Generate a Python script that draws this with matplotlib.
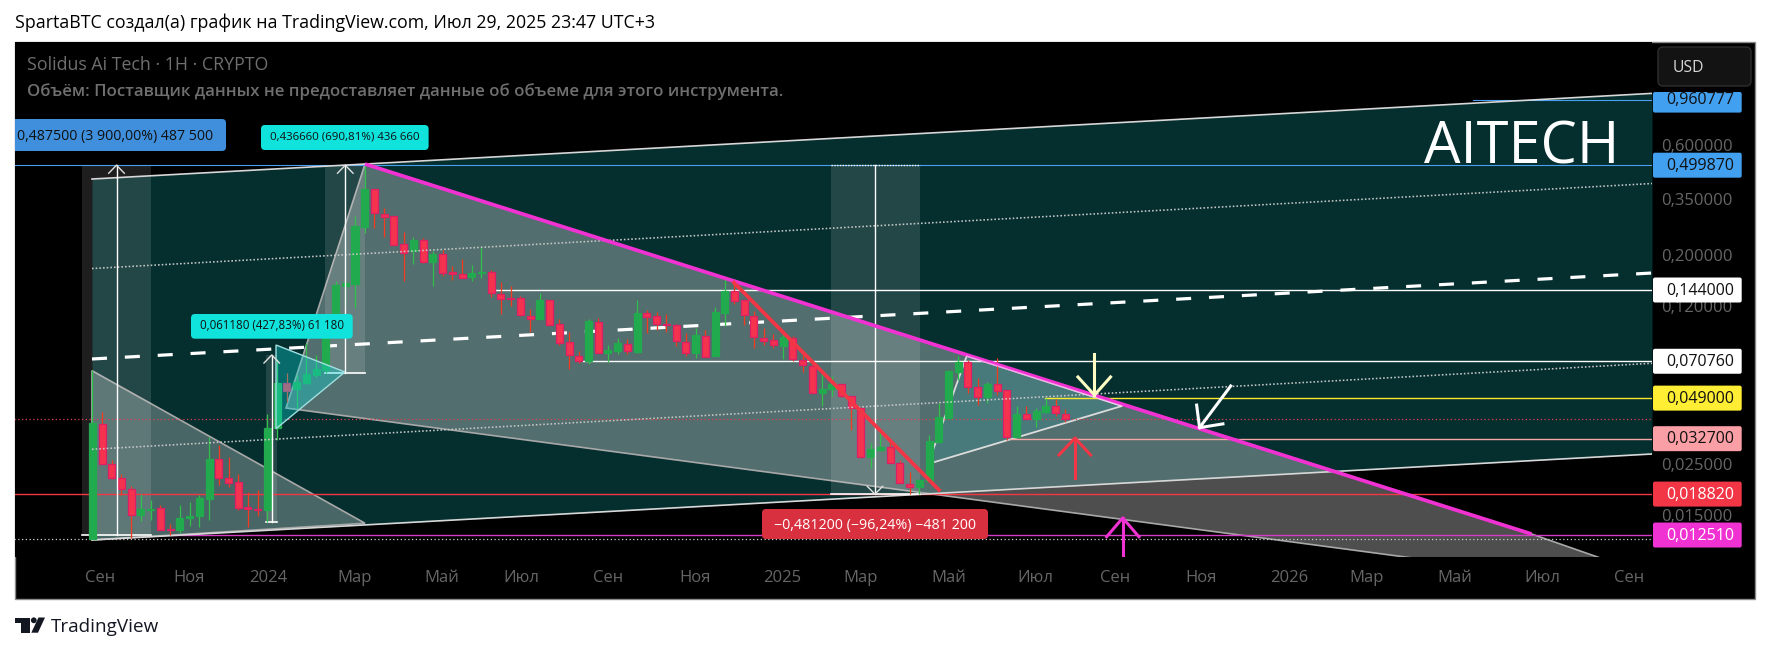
import matplotlib
matplotlib.use('Agg')
import matplotlib.pyplot as plt
from matplotlib.patches import Rectangle, FancyBboxPatch, Polygon, Circle
from matplotlib.ticker import NullLocator

plt.rcParams['font.family'] = ['Open Sans', 'DejaVu Sans']

# ---------- weekly candles (prices, USD) ----------
opens = [.0120,.0377,.0253,.0220,.0197,.0153,.0161,.0163,.0133,.0131,.0149,.0152,.0180,.0266,.0222,.0212,.0165,.0162,.0160,.0363,.0568,.0535,.0572,.0619,.0649,.0986,.1504,.1529,.2708,.3929,.3062,.3021,.2270,.2117,
 .2363,.1910,.2062,.1723,.1695,.1645,.1712,.1717,.1388,.1330,.1325,.1115,.1082,.1299,.1023,.0855,.0748,.0707,.1050,.0771,.0786,.0843,.0779,.1141,.1107,.1023,.1012,.0860,.0771,.0913,.0748,.1149,.1421,.1299,
 .1115,.0895,.0872,.0827,.0895,.0719,.0677,.0517,.0535,.0562,.0499,.0446,.0272,.0292,.0300,.0256,.0209,.0201,.0215,.0317,.0403,.0638,.0700,.0546,.0494,.0562,.0530,.0333,.0418,.0399,.0428,.0451,.0420]
highs = [.0649,.0425,.0264,.0231,.0204,.0188,.0177,.0168,.0140,.0168,.0174,.0186,.0331,.0307,.0272,.0230,.0193,.0196,.0417,.0721,.0627,.0617,.0852,.0753,.0999,.1575,.1591,.3011,.4958,.3929,.3262,.3021,.2559,.2435,
 .2426,.2131,.2146,.1829,.1955,.1841,.2203,.1752,.1554,.1499,.1356,.1188,.1393,.1299,.1075,.0950,.0781,.1078,.1086,.0829,.0892,.0881,.1303,.1180,.1156,.1134,.1026,.0935,.0989,.0966,.1220,.1602,.1602,.1303,
 .1168,.0983,.0929,.0929,.0910,.0753,.0682,.0642,.0611,.0562,.0499,.0446,.0314,.0361,.0329,.0264,.0235,.0217,.0339,.0465,.0649,.0746,.0717,.0601,.0574,.0729,.0530,.0453,.0453,.0443,.0489,.0484,.0438]
lows = [.0120,.0253,.0218,.0187,.0121,.0144,.0146,.0131,.0125,.0128,.0137,.0135,.0145,.0206,.0201,.0160,.0136,.0152,.0143,.0323,.0473,.0443,.0564,.0607,.0627,.0966,.1199,.1207,.2534,.2672,.2434,.2263,.1575,.1866,
 .1879,.1499,.1661,.1596,.1628,.1575,.1628,.1343,.1137,.1228,.1115,.0947,.1078,.1016,.0832,.0653,.0693,.0691,.0771,.0702,.0761,.0763,.0771,.0941,.0966,.0950,.0824,.0746,.0733,.0736,.0748,.1006,.1252,.1016,
 .0810,.0832,.0810,.0724,.0709,.0638,.0514,.0454,.0502,.0497,.0357,.0272,.0245,.0289,.0256,.0210,.0188,.0188,.0215,.0317,.0403,.0587,.0514,.0458,.0468,.0505,.0323,.0331,.0397,.0367,.0424,.0410,.0387]
closes = [.0381,.0253,.0220,.0197,.0153,.0162,.0162,.0132,.0132,.0149,.0152,.0181,.0266,.0222,.0211,.0163,.0162,.0160,.0363,.0568,.0528,.0575,.0621,.0653,.0983,.1514,.1539,.2717,.3929,.3093,.2992,.2263,.2089,.2371,
 .1910,.2062,.1712,.1695,.1628,.1700,.1723,.1393,.1321,.1316,.1119,.1078,.1303,.1019,.0852,.0751,.0707,.1054,.0771,.0789,.0846,.0781,.1141,.1104,.1023,.1012,.0863,.0771,.0916,.0741,.1153,.1421,.1295,.1119,
 .0898,.0869,.0829,.0898,.0721,.0679,.0517,.0535,.0562,.0499,.0446,.0272,.0294,.0300,.0256,.0210,.0201,.0217,.0318,.0405,.0640,.0700,.0546,.0494,.0562,.0528,.0334,.0418,.0399,.0430,.0453,.0421,.0397]

# ---------- axis labels ----------
month_weeks = [0.84,10.0,18.1,27.0,35.9,44.1,53.0,62.0,70.9,79.0,88.0,96.9,105.1,114.0,123.0,131.0,140.0,149.0,158.0]
month_labels = ['Сен','Ноя','2024','Мар','Май','Июл','Сен','Ноя','2025','Мар','Май','Июл','Сен','Ноя','2026','Мар','Май','Июл','Сен']
price_ticks = [0.6,0.35,0.2,0.12,0.025,0.015]
price_tick_labels = ['0,600000','0,350000','0,200000','0,120000','0,025000','0,015000']

# ---------- drawings, (week, price) ----------
chan_x = [-0.03, 160.3]
chan_upper = [0.4355, 1.023]
chan_mid = [0.07238, 0.1706]
chan_up_dot = [0.1784, 0.4164]
chan_lo_dot = [0.02942, 0.06934]
chan_lower = [0.01191, 0.02807]
tri1_x = [-0.03, 28.03, -0.03]
tri1_y = [0.06441, 0.01407, 0.01191]
wedge_x = [19.91, 28.03, 147.92, 160.0, 148.8]
wedge_y = [0.0444, 0.5058, 0.01264, 0.0084, 0.0084]
tri3_x = [18.88, 25.97, 18.88]
tri3_y = [0.08322, 0.06358, 0.03612]
tri4_x = [85.89, 89.87, 105.83]
tri4_y = [0.02541, 0.07457, 0.0453]
red_x = [65.95, 87.02]
red_y = [0.1549, 0.01961]
level_prices = [0.960777, 0.49987, 0.144, 0.07076, 0.049, 0.0327, 0.01882, 0.01251]
level_starts = [141.9, -8.0, 41.4, 50.3, 97.9, 94.3, -8.0, 8.0]
level_colors = ['#4aa0f0', '#4aa0f0', '#ffffff', '#ffffff', '#ffe92e', '#f5a6a6', '#f23645', '#d43cc4']
level_widths = [0.8, 0.8, 1, 1, 1, 1, 1, 1]
level_texts = ['0,960777', '0,499870', '0,144000', '0,070760', '0,049000', '0,032700', '0,018820', '0,012510']
tag_colors = ['#42a0f0', '#42a0f0', '#ffffff', '#ffffff', '#ffee33', '#fa9fa5', '#f23645', '#f032d2']
tag_text_colors = ['#101010']*6 + ['#ffffff', '#ffffff']
dot_prices = [0.01199, 0.0397]
dot_colors = ['#d0d0d0', '#e04050']
# measure bands: week left, week right, week centre, price top, price bottom
bands = [(-1.06, 6.03, 2.49, 0.4999, 0.01251), (23.9, 28.03, 26.0, 0.4999, 0.0632),
         (17.9, 19.0, 18.44, 0.0753, 0.0143), (75.9, 85.06, 80.44, 0.5, 0.01882)]

fig = plt.figure(figsize=(17.71, 6.52), dpi=100, facecolor='white')
W, H = 1771, 652
def rect(x0, y0, x1, y1):
    return [x0/W, 1-y1/H, (x1-x0)/W, (y1-y0)/H]

bg = fig.add_axes([0, 0, 1, 1], zorder=0)
bg.set_xlim(0, W); bg.set_ylim(H, 0); bg.axis('off')
bg.add_patch(Rectangle((15, 41.5), 1740, 557, fc='black', ec='#8a8a8a', lw=1))

ax = fig.add_axes(rect(15, 41.5, 1652, 556.5), zorder=1, facecolor='black')
ax.set_yscale('log')
ax.set_xlim(-7.944, 160.3)
ax.set_ylim(0.01010, 1.716)
for s in ax.spines.values():
    s.set_visible(False)

# channel
ax.fill_between(chan_x, chan_lower, chan_upper, color='#052e2e', lw=0, zorder=1)
for y in (chan_upper, chan_lower):
    ax.plot(chan_x, y, color='#d8d8d8', lw=1.2, zorder=4)
ax.plot(chan_x, chan_mid, color='white', lw=2.3, dashes=(4.7, 5.6), zorder=3)
for y in (chan_up_dot, chan_lo_dot):
    ax.plot(chan_x, y, color='#c8c8c8', lw=1.15, ls=(0, (1, 1.3)), zorder=6)

# gray wedges
ax.add_patch(Polygon(list(zip(wedge_x, wedge_y)), fc=(1, 1, 1, 0.31), ec='#a8a8a8', lw=1.2, zorder=2))
ax.add_patch(Polygon(list(zip(tri1_x, tri1_y)), fc=(1, 1, 1, 0.27), ec='#a8a8a8', lw=1.2, zorder=2))
ax.add_patch(Polygon(list(zip(tri4_x, tri4_y)), fc=(0.15, 0.65, 0.68, 0.22), ec='#dcdcdc', lw=1.3, zorder=3))

# measure bands
for xl, xr, xc, pt, pb in bands:
    ax.fill_between([xl, xr], pb, pt, color=(1, 1, 1, 0.12), lw=0, zorder=2.5)
    ax.plot([xc, xc], [pb, pt], color='white', lw=1, zorder=6)
    ax.plot([xl, xr], [pb, pb], color='white', lw=1.2, zorder=4)
for xc, p in ((2.49, 0.4999), (26.0, 0.4999), (18.44, 0.0753)):
    ax.plot([xc-0.8, xc, xc+0.8], [p*0.923, p, p*0.923], color='#e0e0e0', lw=1, zorder=6)
ax.plot([79.65, 80.44, 81.23], [0.01882*1.08, 0.01882, 0.01882*1.08], color='#e0e0e0', lw=1, zorder=6)
ax.plot([75.9, 85.06], [0.5, 0.5], color='white', lw=1, ls=(0, (1, 1)), zorder=4)

# levels
for p, s, c, w in zip(level_prices, level_starts, level_colors, level_widths):
    ax.plot([s, 160.3], [p, p], color=c, lw=w, zorder=3.5)
for p, c in zip(dot_prices, dot_colors):
    ax.plot([-8, 160.3], [p, p], color=c, lw=0.9, ls=(0, (1, 2)), zorder=3.5)

# candles
for i, (o, h, l, c) in enumerate(zip(opens, highs, lows, closes)):
    up = c >= o
    ax.plot([i, i], [l, h], color='#2fc24a' if up else '#f53a1e', lw=0.9, zorder=4.5, solid_capstyle='butt')
    ax.bar(i, abs(c-o), bottom=min(o, c), width=0.72,
           color='#22ab4e' if up else '#f5334f', edgecolor='#22ab4e' if up else '#dc1f66', lw=0.9, zorder=5)

# cyan triangle over candles
ax.add_patch(Polygon(list(zip(tri3_x, tri3_y)), fc=(0.05, 0.85, 0.85, 0.36), ec='#a0e0e0', lw=1, zorder=5.5))

# trend lines
ax.plot(wedge_x[1:3], wedge_y[1:3], color='#f032d2', lw=2.7, zorder=6.5, solid_capstyle='butt')
ax.plot(tri4_x[1:], tri4_y[1:], color='#ffffff', lw=0.9, alpha=0.55, zorder=6.6)
ax.plot(red_x, red_y, color='#f23645', lw=2.7, zorder=6.5)

# hand arrows: tail, tip, wing, wing
def arrow(tail, tip, w1, w2, color, lw=2.2):
    ax.plot([tail[0], tip[0]], [tail[1], tip[1]], color=color, lw=lw, zorder=7, clip_on=True)
    ax.plot([w1[0], tip[0], w2[0]], [w1[1], tip[1], w2[1]], color=color, lw=lw, zorder=7)
arrow((103.0, 0.0761), (103.0, 0.0505), (101.3, 0.0605), (104.65, 0.0605), '#fffdc4')
arrow((101.0, 0.02217), (101.0, 0.0329), (99.35, 0.0278), (102.6, 0.0278), '#f23645')
arrow((105.9, 0.0098), (105.9, 0.01483), (104.25, 0.0123), (107.57, 0.0123), '#f032d2')
arrow((117.0, 0.0553), (113.8, 0.0365), (113.5, 0.0457), (116.2, 0.0379), 'white')

# ticks
ax.yaxis.tick_right()
ax.yaxis.set_minor_locator(NullLocator())
ax.set_yticks(price_ticks)
ax.set_yticklabels(price_tick_labels, ha='right', va='center', color='#666666', fontsize=12)
ax.tick_params(axis='y', which='both', length=0, pad=58)
ax.set_xticks(month_weeks)
ax.set_xticklabels(month_labels, color='#666666', fontsize=12)
ax.tick_params(axis='x', length=0, pad=10)

# chrome
ui = fig.add_axes([0, 0, 1, 1], zorder=3, facecolor='none')
ui.set_xlim(0, W); ui.set_ylim(H, 0); ui.axis('off')
rend = fig.canvas.get_renderer()

def fit(x0, x1, y, s, color, fs=12, **kw):
    t = ui.text(x0, y, s, color=color, fontsize=fs, ha='left', va='center', zorder=10, **kw)
    t.set_fontsize(fs*(x1-x0)/t.get_window_extent(rend).width)
    return t

def box(x0, y0, x1, y1, color, r=4):
    ui.add_patch(FancyBboxPatch((x0+r, y0+r), x1-x0-2*r, y1-y0-2*r, boxstyle=f'round,pad={r},rounding_size={r}',
                                fc=color, ec='none', zorder=8))

fit(15, 654, 22.5, 'SpartaBTC создал(а) график на TradingView.com, Июл 29, 2025 23:47 UTC+3', 'black')
fit(27, 268, 65, 'Solidus Ai Tech · 1H · CRYPTO', '#6f6f6f', fontweight='medium')
fit(27, 780, 92, 'Объём: Поставщик данных не предоставляет данные об объеме для этого инструмента.', '#6f6f6f', fontweight='semibold')
fit(1424.5, 1619.7, 148, 'AITECH', 'white', fs=40)

# USD box
ui.add_patch(FancyBboxPatch((1662, 51), 85, 31, boxstyle='round,pad=4,rounding_size=5', fc='#131313', ec='#2e2e2e', lw=1, zorder=8))
fit(1672.5, 1704, 68, 'USD', '#d8d8d8')

# measure labels
ui.add_patch(Rectangle((15, 119), 10, 32, fc='#3f8fdc', ec='none', zorder=8))
box(15, 119, 226, 151, '#3f8fdc')
fit(17, 214, 136.5, '0,487500 (3 900,00%) 487 500', '#101010')
box(261, 125, 428.6, 150, '#0fe3dc')
fit(270, 420, 137, '0,436660 (690,81%) 436 660', '#101010')
box(191, 314, 352.7, 338.7, '#0fe3dc')
fit(200, 343.3, 325.5, '0,061180 (427,83%) 61 180', '#101010')
box(762, 509, 988, 539, '#d9303f')
fit(773.7, 976.5, 525, '−0,481200 (−96,24%) −481 200', 'white')

# price tags
for k, (p, s, c, tc) in enumerate(zip(level_prices, level_texts, tag_colors, tag_text_colors)):
    y = H - ax.transData.transform((0, p))[1]
    top, bot = (92, 112.6) if k == 0 else (y-12.5, y+12.5)
    box(1653, top, 1741.7, bot, c, r=2)
    fit(1666.4, 1735, y+0.5 if k else y, s, tc, fontweight='medium')

# TradingView logo
ui.add_patch(Polygon([(15, 617.5), (30, 617.5), (30, 632.7), (21.5, 632.7), (21.5, 623), (15, 623)], fc='#131722', ec='none'))
ui.add_patch(Circle((33.8, 620.3), 2.9, fc='#131722', ec='none'))
ui.add_patch(Polygon([(38.5, 617.5), (45, 617.5), (38, 632.7), (31.3, 632.7)], fc='#131722', ec='none'))
fit(50.5, 158, 627.5, 'TradingView', '#131722')

fig.savefig('out.png', dpi=100, facecolor='white')
